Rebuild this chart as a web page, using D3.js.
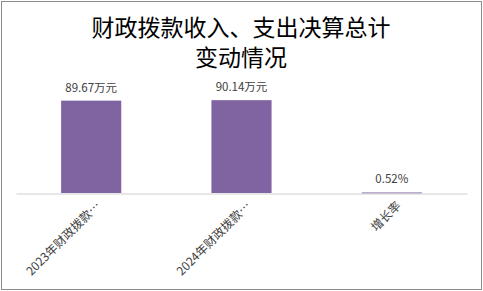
<!DOCTYPE html>
<html><head><meta charset="utf-8">
<script src="https://cdn.jsdelivr.net/npm/d3@7"></script>
<style>html,body{margin:0;padding:0;background:#fff;}</style>
</head><body>
<svg id="c" width="483" height="291"></svg>
<script>
const titleLines = ["财政拨款收入、支出决算总计", "变动情况"];
const categories = ["2023年财政拨款…", "2024年财政拨款…", "增长率"];
const values = [89.67, 90.14, 0.52];
const valueLabels = ["89.67万元", "90.14万元", "0.52%"];

const svg = d3.select("#c");
const W = 483, H = 291;
svg.append("rect").attr("x", 1.5).attr("y", 1.5).attr("width", W - 3).attr("height", H - 3)
  .attr("fill", "#fff").attr("stroke", "#8c8c8c").attr("stroke-width", 1);

const font = "'Noto Sans CJK SC', 'Noto Sans', sans-serif";
titleLines.forEach((t, i) => svg.append("text").attr("class", "title")
  .attr("text-anchor", "middle").attr("font-family", font)
  .attr("font-size", 23).attr("fill", "#000")
  .attr("x", 241).attr("y", 36 + i * 30).text(t));

const plot = {left: 16, right: 467, top: 90, bottom: 193};
const x = d3.scaleBand().domain(categories).range([plot.left, plot.right]).paddingInner(0.6).paddingOuter(0.3);
const y = d3.scaleLinear().domain([0, 100]).range([plot.bottom, plot.top]);

svg.selectAll("rect.bar").data(values).join("rect").attr("class", "bar")
  .attr("x", (d, i) => x(categories[i]))
  .attr("width", x.bandwidth())
  .attr("y", d => y(d))
  .attr("height", d => Math.max(1, y(0) - y(d)))
  .attr("fill", "#8064A2");

const xAxis = svg.append("g").attr("transform", `translate(0,${plot.bottom + 0.5})`)
  .call(d3.axisBottom(x).tickSize(0).tickPadding(0));
xAxis.select(".domain").attr("stroke", "#d0d0d0").attr("stroke-width", 1.2);
xAxis.selectAll(".tick text")
  .attr("font-family", font).attr("font-size", 12).attr("fill", "#404040")
  .attr("text-anchor", "end").attr("dy", 0)
  .attr("transform", "translate(10,13) rotate(-45)");

svg.selectAll("text.vl").data(values).join("text").attr("class", "vl")
  .attr("x", (d, i) => x(categories[i]) + x.bandwidth() / 2)
  .attr("y", d => y(d) - 9)
  .attr("text-anchor", "middle").attr("font-family", font).attr("font-size", 11.5)
  .attr("fill", "#404040")
  .text((d, i) => valueLabels[i]);
</script>
</body></html>
